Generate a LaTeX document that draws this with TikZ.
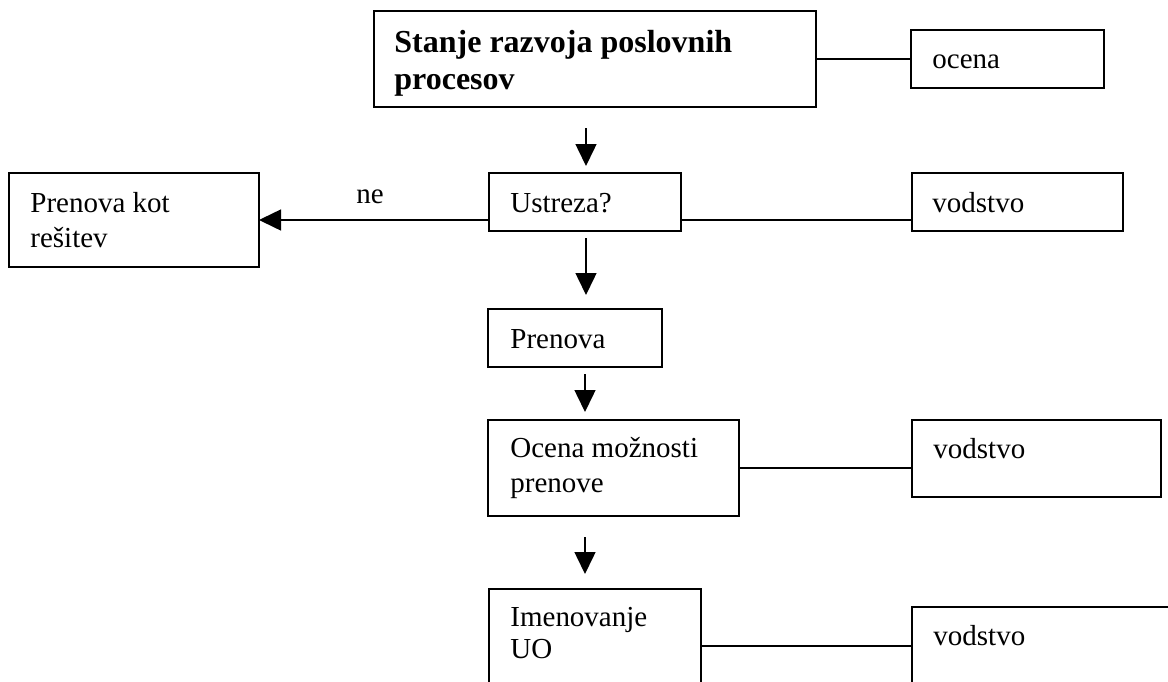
\documentclass[tikz,border=0pt]{standalone}
\usepackage{fontspec}
\setmainfont{Liberation Serif}
\usetikzlibrary{arrows.meta}
\tikzset{
  box/.style={draw, line width=0.75pt, inner sep=0pt, outer sep=0pt, anchor=north west},
  lbl/.style={anchor=base west, inner sep=0pt, font=\fontsize{14.5}{17.5}\selectfont},
  blbl/.style={anchor=base west, inner sep=0pt, font=\fontsize{16}{19}\selectfont\bfseries},
  conn/.style={line width=0.75pt},
  arr/.style={line width=0.75pt, -{Triangle[length=11pt,width=10.5pt]}}
}
\begin{document}
\begin{tikzpicture}[x=0.5pt,y=-0.5pt]
\useasboundingbox (0,0) rectangle (1168,681);
\clip (0,0) rectangle (1168,681);
% boxes
\node[box, minimum width=221pt, minimum height=48pt] (top) at (374,11) {};
\node[box, minimum width=96.5pt, minimum height=29pt] (ocena) at (911,30) {};
\node[box, minimum width=96pt, minimum height=29pt] (ustreza) at (489,173) {};
\node[box, minimum width=105.5pt, minimum height=29pt] (vod1) at (912,173) {};
\node[box, minimum width=125pt, minimum height=47pt] (left) at (9,173) {};
\node[box, minimum width=87pt, minimum height=29pt] (prenova) at (488,309) {};
\node[box, minimum width=125.5pt, minimum height=48pt] (om) at (488,420) {};
\node[box, minimum width=124.5pt, minimum height=38.5pt] (vod2) at (912,420) {};
\node[box, minimum width=106pt, minimum height=57pt] (imen) at (489,589) {};
\node[box, minimum width=149pt, minimum height=39pt] (vod3) at (912,607) {};
% texts
\node[blbl] (t1a) at (394,52) {Stanje razvoja poslovnih};
\node[blbl] (t1b) at (394,89) {procesov};
\node[lbl] (t2) at (932,68) {ocena};
\node[lbl] (t3) at (510,212) {Ustreza?};
\node[lbl] (t4) at (932,212) {vodstvo};
\node[lbl] (t5a) at (30,212) {Prenova kot};
\node[lbl] (t5b) at (30,247) {rešitev};
\node[lbl] (tne) at (356,203) {ne};
\node[lbl] (t6) at (510,348) {Prenova};
\node[lbl] (t7a) at (510,457) {Ocena možnosti};
\node[lbl] (t7b) at (510,492) {prenove};
\node[lbl] (t8) at (933,458) {vodstvo};
\node[lbl] (t9a) at (510,626) {Imenovanje};
\node[lbl] (t9b) at (510,658) {UO};
\node[lbl] (t10) at (933,645) {vodstvo};
% connectors
\draw[conn] (top.east) -- (ocena.west);
\draw[arr] (ustreza.west |- left.east) -- (left.east);
\draw[conn] (ustreza.east |- left.east) -- (vod1.west |- left.east);
\draw[conn] (om.east) -- (vod2.west |- om.east);
\draw[conn] (imen.east) -- (vod3.west);
% vertical arrows
\coordinate (a1s) at (586,128); \coordinate (a1e) at (586,166);
\coordinate (a2s) at (586,238); \coordinate (a2e) at (586,295);
\coordinate (a3s) at (585,374); \coordinate (a3e) at (585,412);
\coordinate (a4s) at (585,537); \coordinate (a4e) at (585,574);
\draw[arr] (a1s) -- (a1e);
\draw[arr] (a2s) -- (a2e);
\draw[arr] (a3s) -- (a3e);
\draw[arr] (a4s) -- (a4e);
\end{tikzpicture}
\end{document}
